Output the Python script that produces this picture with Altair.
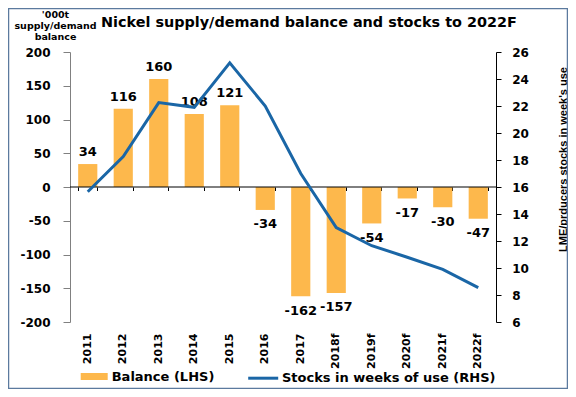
import altair as alt
import pandas as pd

# ---- data ----
years = ["2011", "2012", "2013", "2014", "2015", "2016", "2017",
         "2018f", "2019f", "2020f", "2021f", "2022f"]
balance = [34, 116, 160, 108, 121, -34, -162, -157, -54, -17, -30, -47]
stocks_weeks = [15.65, 18.25, 22.25, 21.9, 25.2, 22.0, 17.0, 13.0, 11.65, 10.8, 9.9, 8.55]
left_ticks = [-200, -150, -100, -50, 0, 50, 100, 150, 200]
right_ticks = [6, 8, 10, 12, 14, 16, 18, 20, 22, 24, 26]
title_text = "Nickel supply/demand balance and stocks to 2022F"
left_title = ["'000t", "supply/demand", "balance"]
right_title = "LME/prducers stocks in week's use"
bar_series = "Balance (LHS)"
line_series = "Stocks in weeks of use (RHS)"

df = pd.DataFrame({
    "year": years,
    "balance": balance,
    "stocks": stocks_weeks,
    "bar_s": [bar_series] * len(years),
    "line_s": [line_series] * len(years),
})
one = pd.DataFrame({"balance": [0]})

FONT = "DejaVu Sans"
ORANGE = "#FDB84C"
BLUE = "#1A66A6"

x_main = alt.X(
    "year:N", sort=years, scale=alt.Scale(paddingInner=0.46, paddingOuter=0.23),
    axis=alt.Axis(
        orient="bottom", title=None, domain=False, ticks=False,
        labelAngle=270, labelAlign="right", labelBaseline="middle",
        labelPadding=11, labelFont=FONT, labelFontSize=11,
        labelFontWeight="bold", labelColor="black", labelOverlap=False,
    ),
)

y_left = alt.Y(
    "balance:Q",
    scale=alt.Scale(domain=[-200, 200], nice=False),
    axis=alt.Axis(
        orient="left", values=left_ticks, grid=False,
        labelExpr="'' + datum.value", labelOverlap=False,
        labelFont=FONT, labelFontSize=12, labelFontWeight="bold",
        labelColor="black", labelPadding=13, tickSize=7,
        tickColor="#808080", domainColor="#808080",
        title=left_title, titleAngle=0, titleX=-15, titleY=-43,
        titleAlign="center", titleBaseline="top", titleFont=FONT,
        titleFontSize=9.5, titleFontWeight="bold", titleLineHeight=11,
        titleColor="black",
    ),
)

bars = alt.Chart(df).mark_bar().encode(
    x=x_main,
    y=y_left,
    color=alt.Color(
        "bar_s:N",
        scale=alt.Scale(domain=[bar_series], range=[ORANGE]),
        legend=alt.Legend(
            orient="none", legendX=10.7, legendY=311, title=None,
            symbolType="M-1,-0.26H1V0.26H-1Z", symbolSize=729,
            symbolStrokeWidth=0, symbolOpacity=1, padding=0,
            labelFont=FONT, labelFontSize=13, labelFontWeight="bold",
            labelColor="black", labelOffset=4, labelLimit=400,
        ),
    ),
)

lab_pos = alt.Chart(df).transform_filter("datum.balance >= 0").mark_text(
    font=FONT, fontSize=13, fontWeight="bold", baseline="alphabetic",
    dy=-8, color="black",
).encode(x=x_main, y=y_left, text="balance:N")

lab_neg = alt.Chart(df).transform_filter("datum.balance < 0").mark_text(
    font=FONT, fontSize=13, fontWeight="bold", baseline="alphabetic",
    dy=18.5, color="black",
).encode(x=x_main, y=y_left, text="balance:N")

zero_rule = alt.Chart(one).mark_rule(color="black", strokeWidth=1).encode(
    y=y_left
)

frame = alt.Chart(one).mark_rect(
    fill="transparent", stroke="#5B7A9E", strokeWidth=1.5
).encode(
    x=alt.value(-61.5), x2=alt.value(497.5),
    y=alt.value(-43.5), y2=alt.value(336.5),
)

title_mark = alt.Chart(one).mark_text(
    text=title_text, font=FONT, fontSize=14.4, fontWeight="bold",
    align="left", baseline="alphabetic", color="black",
).encode(x=alt.value(31), y=alt.value(-25))

left = alt.layer(bars, zero_rule, lab_pos, lab_neg, frame, title_mark)

line = alt.Chart(df).mark_line(strokeWidth=3).encode(
    x=alt.X(
        "year:N", sort=years,
        axis=alt.Axis(
            orient="bottom", offset=-135, labels=False, domain=False,
            ticks=True, tickBand="extent", tickSize=3.5,
            tickColor="black", title=None, grid=False,
        ),
    ),
    y=alt.Y(
        "stocks:Q",
        scale=alt.Scale(domain=[6, 26], nice=False, zero=False),
        axis=alt.Axis(
            orient="right", values=right_ticks, grid=False, labelOverlap=False,
            labelFont=FONT, labelFontSize=12, labelFontWeight="bold",
            labelColor="black", labelPadding=10.7, tickSize=5,
            tickColor="black", domainColor="black",
            title=right_title, titleAngle=270, titleX=67, titleY=107,
            titleAlign="center", titleBaseline="middle",
            titleFont="Liberation Sans", titleFontSize=11,
            titleFontWeight="bold", titleColor="black",
        ),
    ),
    stroke=alt.Stroke(
        "line_s:N",
        scale=alt.Scale(domain=[line_series], range=[BLUE]),
        legend=alt.Legend(
            orient="none", legendX=176.7, legendY=309.7, title=None,
            symbolType="stroke", symbolSize=900, symbolStrokeWidth=3,
            padding=0, labelFont=FONT, labelFontSize=13,
            labelFontWeight="bold", labelColor="black", labelOffset=2.3,
            labelLimit=400,
        ),
    ),
)

chart = (
    alt.layer(left, line)
    .resolve_scale(y="independent")
    .resolve_axis(x="independent")
    .properties(
        width=426, height=270,
        padding={"left": 62, "top": 44, "right": 72, "bottom": 67},
        autosize=alt.AutoSizeParams(type="none"),
        background="white",
    )
    .configure_view(strokeWidth=0)
)

chart.save("out.html", embed_options={"renderer": "svg", "actions": False})
